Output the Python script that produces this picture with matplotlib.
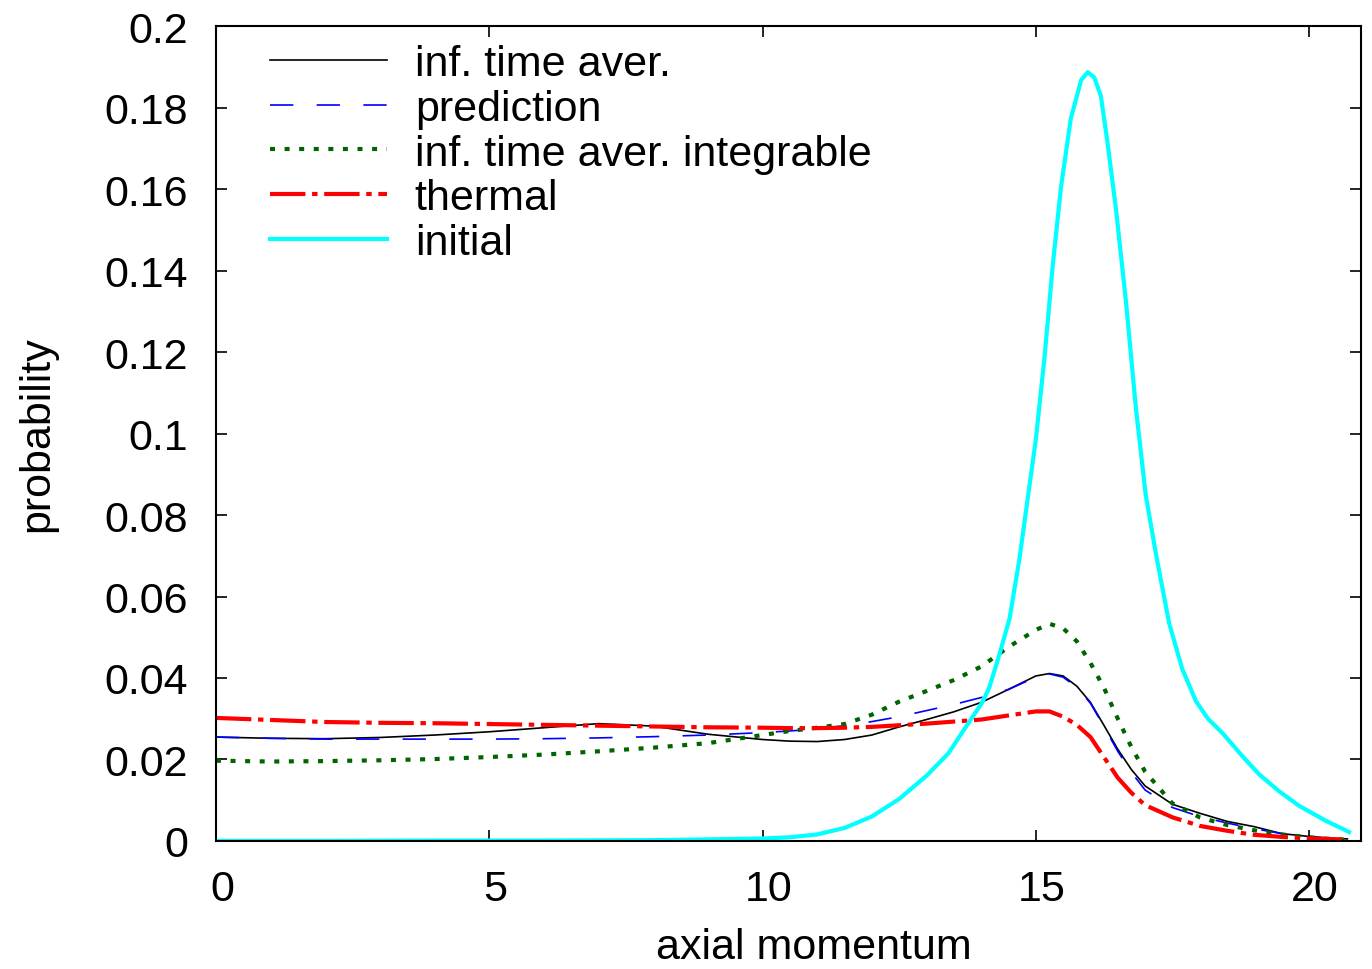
import matplotlib.pyplot as plt
from matplotlib.transforms import ScaledTranslation

plt.rcParams['font.family'] = ['Liberation Sans', 'DejaVu Sans']

# shared momentum grid for the four low curves
x = [0, 1, 2, 3, 4, 5, 6, 7, 8, 9, 10, 10.5, 11, 11.5, 12, 12.5, 13, 13.5, 14, 14.5,
     15, 15.25, 15.5, 15.75, 16, 16.25, 16.5, 16.75, 17, 17.5, 18, 18.5, 19, 19.5, 20,
     20.5, 20.7]

inf_time = [0.0255, 0.0252, 0.0251, 0.0254, 0.0260, 0.0268, 0.0278, 0.0288, 0.0282, 0.0262,
            0.0249, 0.0245, 0.0244, 0.0249, 0.0260, 0.0280, 0.0298, 0.0317, 0.0340, 0.0372,
            0.0405, 0.0411, 0.0405, 0.0380, 0.0340, 0.0283, 0.0225, 0.0175, 0.0135, 0.0090,
            0.0068, 0.0048, 0.0035, 0.0018, 0.0011, 0.0006, 0.0005]

prediction = [0.0255, 0.0252, 0.0250, 0.0250, 0.0250, 0.0250, 0.0251, 0.0253, 0.0256, 0.0260,
              0.0266, 0.0270, 0.0275, 0.0283, 0.0293, 0.0305, 0.0320, 0.0335, 0.0352, 0.0372,
              0.0402, 0.0410, 0.0402, 0.0377, 0.0338, 0.0280, 0.0220, 0.0168, 0.0125, 0.0082,
              0.0060, 0.0044, 0.0030, 0.0018, 0.0010, 0.0005, 0.0004]

integrable = [0.0197, 0.0195, 0.0196, 0.0198, 0.0201, 0.0206, 0.0212, 0.0220, 0.0229, 0.0240,
              0.0260, 0.0270, 0.0278, 0.0287, 0.0310, 0.0342, 0.0368, 0.0395, 0.0428, 0.0476,
              0.0518, 0.0533, 0.0522, 0.0490, 0.0437, 0.0375, 0.0300, 0.0230, 0.0170, 0.0092,
              0.0058, 0.0039, 0.0026, 0.0016, 0.0009, 0.0004, 0.0003]

thermal = [0.0302, 0.0297, 0.0292, 0.0290, 0.0289, 0.0287, 0.0285, 0.0283, 0.0281, 0.0279,
           0.0278, 0.0277, 0.0277, 0.0278, 0.0280, 0.0284, 0.0288, 0.0293, 0.0298, 0.0308,
           0.0318, 0.0318, 0.0305, 0.0285, 0.0255, 0.0205, 0.0155, 0.0118, 0.0088, 0.0058,
           0.0037, 0.0025, 0.0015, 0.0010, 0.0006, 0.0004, 0.0004]

# initial distribution, own grid (sharp peak)
x_init = [0, 2, 4, 6, 8, 9, 10, 10.5, 11, 11.5, 12, 12.5, 13, 13.4, 13.73, 14.02, 14.15,
          14.33, 14.52, 14.7, 14.85, 15.0, 15.16, 15.31, 15.46, 15.64, 15.83, 15.95, 16.07,
          16.19, 16.31, 16.47, 16.65, 16.83, 17.01, 17.2, 17.44, 17.68, 17.93, 18.15, 18.42,
          18.78, 19.09, 19.45, 19.82, 20.3, 20.73]
initial = [0.0, 0.0, 0.0001, 0.0001, 0.0002, 0.0004, 0.0006, 0.0009, 0.0016, 0.0032, 0.0060,
           0.0103, 0.0160, 0.0215, 0.0282, 0.0340, 0.0377, 0.0456, 0.0546, 0.0692, 0.0839,
           0.0985, 0.1188, 0.1413, 0.1604, 0.1773, 0.1868, 0.1887, 0.1874, 0.1829, 0.1716,
           0.1547, 0.1323, 0.1064, 0.0850, 0.0703, 0.0534, 0.0422, 0.0343, 0.0300, 0.0264,
           0.0208, 0.0163, 0.0122, 0.0086, 0.0050, 0.0022]

labels = ['inf. time aver.', 'prediction', 'inf. time aver. integrable', 'thermal', 'initial']

fig = plt.figure(figsize=(13.72, 9.70), dpi=100)
ax = fig.add_axes([0.1574, 0.132, 0.8346, 0.840])

ax.plot(x, inf_time, color='black', lw=1.2, label=labels[0])
ax.plot(x, prediction, color='#0000ff', lw=1.2, dashes=(14, 14), label=labels[1])
ax.plot(x, integrable, color='#006400', lw=3.0, dashes=(1.2, 2.3), label=labels[2])
ax.plot(x, thermal, color='#ff0000', lw=3.0, dashes=(8.5, 1.6, 1.3, 1.6), label=labels[3])
ax.plot(x_init, initial, color='#00ffff', lw=3.0, label=labels[4])

ax.set_xlim(0, 20.95)
ax.set_ylim(0, 0.2)
ax.set_xticks([0, 5, 10, 15, 20])
ax.set_yticks([0, 0.02, 0.04, 0.06, 0.08, 0.1, 0.12, 0.14, 0.16, 0.18, 0.2])
ax.set_yticklabels(['0', '0.02', '0.04', '0.06', '0.08', '0.1', '0.12', '0.14', '0.16', '0.18', '0.2'])
ax.tick_params(direction='in', length=8, width=1.2, labelsize=31, pad=20,
               top=True, right=True)
shift = ScaledTranslation(6 / 100, 0, fig.dpi_scale_trans)
for lab in ax.get_xticklabels():
    lab.set_transform(lab.get_transform() + shift)
for s in ax.spines.values():
    s.set_linewidth(1.5)

ax.set_xlabel('axial momentum', fontsize=31)
ax.xaxis.set_label_coords(0.522, -0.106)
ax.set_ylabel('probability', fontsize=31, labelpad=34)

ax.legend(loc='upper left', bbox_to_anchor=(0.047, 0.978), frameon=False, fontsize=31,
          handlelength=2.72, handletextpad=0.65, labelspacing=0.11, borderpad=0,
          borderaxespad=0)

plt.savefig('out.png')
